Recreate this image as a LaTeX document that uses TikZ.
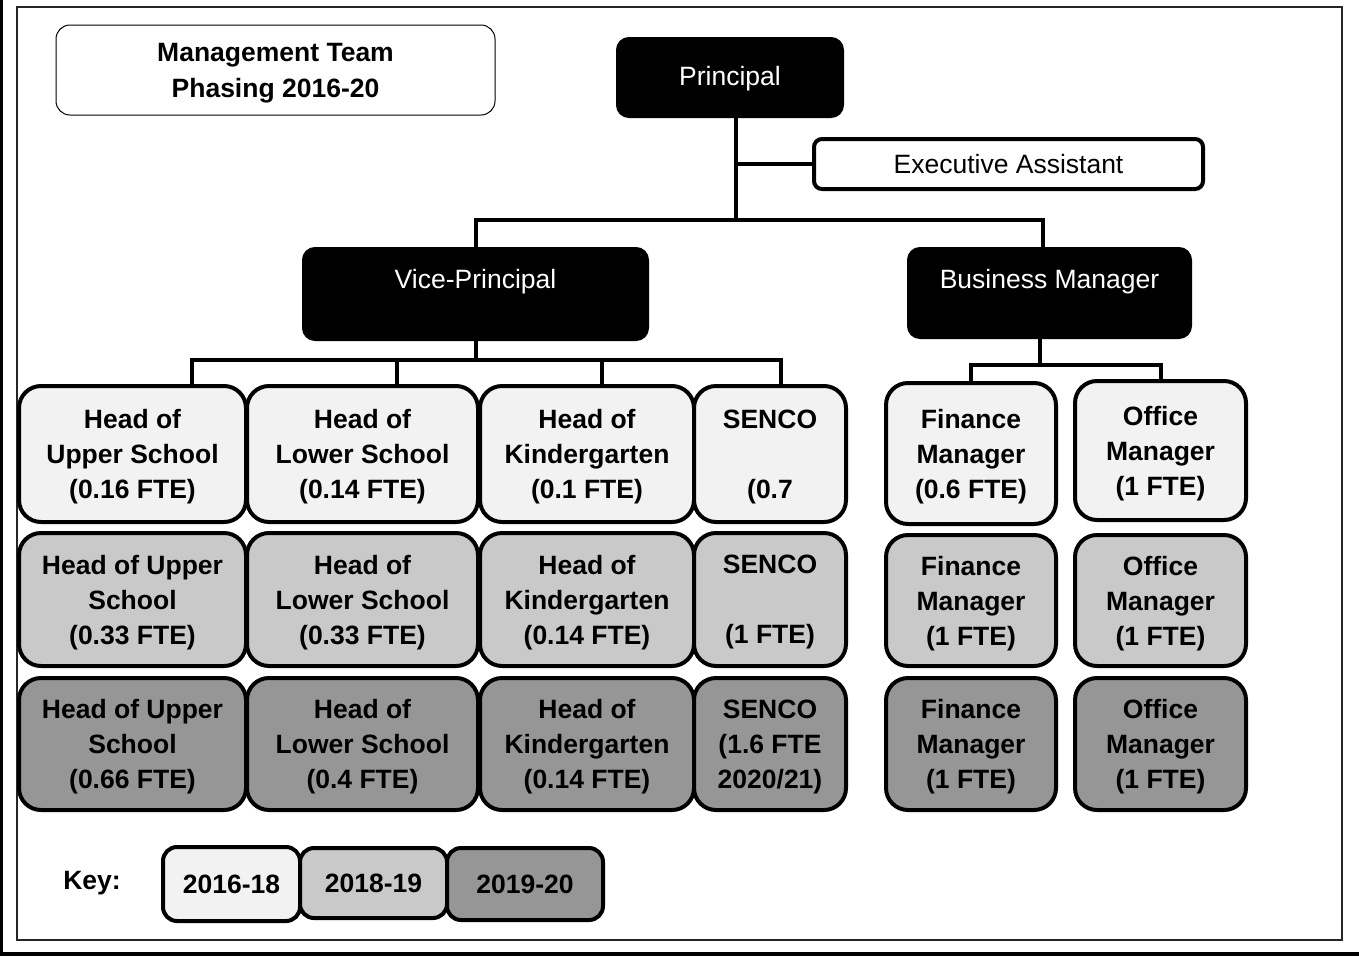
\documentclass[tikz,border=0pt]{standalone}
\usepackage{fontspec}
\setmainfont{Liberation Sans}
\definecolor{phaseA}{HTML}{F2F2F2}
\definecolor{phaseB}{HTML}{C9C9C9}
\definecolor{phaseC}{HTML}{969696}
\tikzset{
  conn/.style={line width=4pt, black},
  rolebox/.style={draw=black, line width=4pt, rounded corners=22pt, align=center,
    inner sep=0pt, text depth=0pt, font=\fontsize{26.5}{35}\selectfont\bfseries},
  ph1/.style={rolebox, fill=phaseA},
  ph2/.style={rolebox, fill=phaseB},
  ph3/.style={rolebox, fill=phaseC},
  leadbox/.style={draw=black, fill=black, line width=2pt, rounded corners=12pt, inner sep=0pt},
  leadtext/.style={text=white, font=\fontsize{26.5}{35}\selectfont},
  keybox/.style={draw=black, line width=4pt, rounded corners=14pt, inner sep=0pt,
    font=\fontsize{26.5}{35}\selectfont\bfseries},
}
\begin{document}
\begin{tikzpicture}[x=1pt,y=-1pt]
\useasboundingbox (0,0) rectangle (1359,956);
\fill[white] (0,0) rectangle (1359,956);
% page edges and frame
\fill[black] (0,0) rectangle (3,956);
\fill[black] (0,952) rectangle (1359,956);
\draw[line width=1.5pt, black!85] (17,7) rectangle (1342,940);

% title
\node[draw=black, line width=1pt, rounded corners=14pt, minimum width=439pt, minimum height=90pt,
  align=center, text depth=0pt, font=\fontsize{26.5}{36}\selectfont\bfseries] (title) at (275.5,70)
  {Management Team\\Phasing 2016-20};

% leadership
\node[leadbox, minimum width=226pt, minimum height=79pt] (prin) at (730,77.5) {};
\node[leadtext] (prinT) at ([yshift=-1pt]prin.center) {Principal};
\node[draw=black, line width=4pt, rounded corners=8pt, fill=white, minimum width=389pt,
  minimum height=50pt, inner sep=0pt, font=\fontsize{26.5}{35}\selectfont] (exec) at (1008.5,164)
  {Executive Assistant};
\node[leadbox, minimum width=345pt, minimum height=92pt] (vp) at (475.5,294) {};
\node[leadtext] (vpT) at ([yshift=12pt]vp.center) {Vice-Principal};
\node[leadbox, minimum width=283pt, minimum height=90pt] (bm) at (1049.5,293) {};
\node[leadtext] (bmT) at ([yshift=11pt]bm.center) {Business Manager};

% top connectors
\coordinate (j1) at (736,220);
\draw[conn] (prin.south -| j1) -- (j1);
\draw[conn] (exec.west) -- (exec.west -| j1);
\draw[conn] (vp.north) |- (j1) -| ([xshift=-7pt]bm.north);

% row 2016-18
\node[ph1, minimum width=227pt, minimum height=136pt] (u1) at (132.5,454) {Head of\\Upper School\\(0.16 FTE)};
\node[ph1, minimum width=231pt, minimum height=136pt] (l1) at (362.5,454) {Head of\\Lower School\\(0.14 FTE)};
\node[ph1, minimum width=214pt, minimum height=136pt] (k1) at (587,454) {Head of\\Kindergarten\\(0.1 FTE)};
\node[ph1, minimum width=152pt, minimum height=136pt] (s1) at (770,454) {SENCO\\~\\(0.7};
\node[ph1, minimum width=170pt, minimum height=141pt] (f1) at (971,453.5) {Finance\\Manager\\(0.6 FTE)};
\node[ph1, minimum width=171pt, minimum height=139pt] (o1) at (1160.5,450.5) {Office\\Manager\\(1 FTE)};

% row 2018-19
\node[ph2, minimum width=227pt, minimum height=133pt] (u2) at (132.5,599.5) {Head of Upper\\School\\(0.33 FTE)};
\node[ph2, minimum width=231pt, minimum height=133pt] (l2) at (362.5,599.5) {Head of\\Lower School\\(0.33 FTE)};
\node[ph2, minimum width=214pt, minimum height=133pt] (k2) at (587,599.5) {Head of\\Kindergarten\\(0.14 FTE)};
\node[ph2, minimum width=152pt, minimum height=133pt] (s2) at (770,599.5) {SENCO\\~\\(1 FTE)};
\node[ph2, minimum width=170pt, minimum height=131pt] (f2) at (971,600.5) {Finance\\Manager\\(1 FTE)};
\node[ph2, minimum width=171pt, minimum height=131pt] (o2) at (1160.5,600.5) {Office\\Manager\\(1 FTE)};

% row 2019-20
\node[ph3, minimum width=227pt, minimum height=132pt] (u3) at (132.5,744) {Head of Upper\\School\\(0.66 FTE)};
\node[ph3, minimum width=231pt, minimum height=132pt] (l3) at (362.5,744) {Head of\\Lower School\\(0.4 FTE)};
\node[ph3, minimum width=214pt, minimum height=132pt] (k3) at (587,744) {Head of\\Kindergarten\\(0.14 FTE)};
\node[ph3, minimum width=152pt, minimum height=132pt] (s3) at (770,744) {SENCO\\(1.6 FTE\\2020/21)};
\node[ph3, minimum width=170pt, minimum height=132pt] (f3) at (971,744) {Finance\\Manager\\(1 FTE)};
\node[ph3, minimum width=171pt, minimum height=132pt] (o3) at (1160.5,744) {Office\\Manager\\(1 FTE)};

% vice-principal branch
\coordinate (v1) at (192,360);
\coordinate (v2) at (397,360);
\coordinate (v3) at (602,360);
\coordinate (v4) at (781,360);
\draw[conn] (vp.south) -- (vp.south |- v1);
\draw[conn] (v1 |- u1.north) -- (v1) -- (v4) -- (v4 |- s1.north);
\draw[conn] (v2) -- (v2 |- l1.north);
\draw[conn] (v3) -- (v3 |- k1.north);

% business manager branch
\coordinate (b0) at (1040,365);
\draw[conn] ([xshift=-9.5pt]bm.south) -- (b0);
\draw[conn] (f1.north) |- (b0) -| (o1.north);

% key
\node[font=\fontsize{26.5}{35}\selectfont\bfseries] (keyT) at (92,883) {Key:};
\node[keybox, fill=phaseA, minimum width=137pt, minimum height=74pt] (key1) at (231.5,884) {2016-18};
\node[keybox, fill=phaseB, minimum width=147pt, minimum height=70pt] (key2) at (373.5,883) {2018-19};
\node[keybox, fill=phaseC, minimum width=156pt, minimum height=72pt] (key3) at (525,884) {2019-20};
\end{tikzpicture}
\end{document}
